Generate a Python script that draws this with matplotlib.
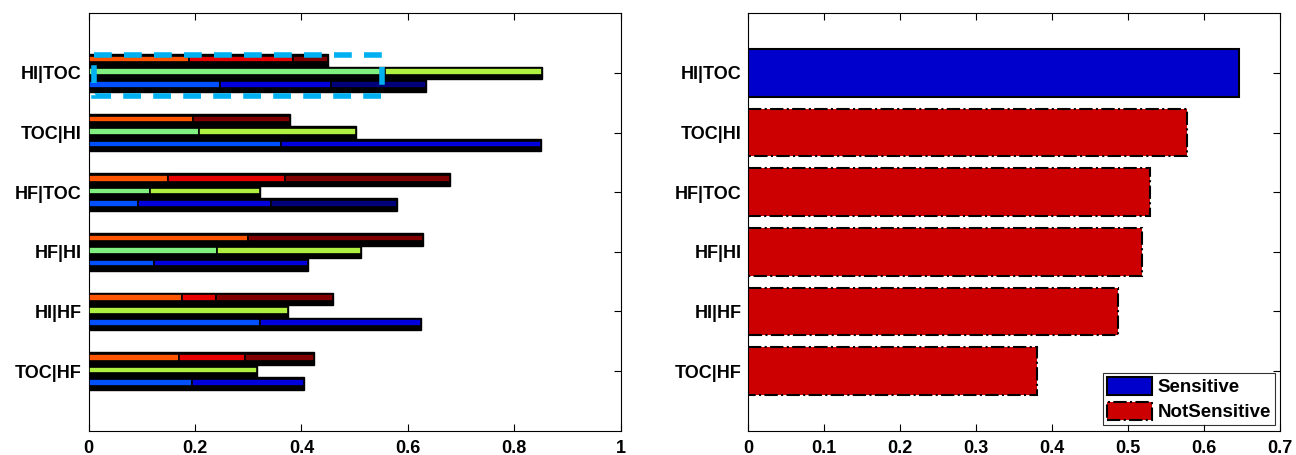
import numpy as np
import matplotlib
matplotlib.use('Agg')
import matplotlib.pyplot as plt
from matplotlib.patches import Patch, Rectangle

plt.rcParams['font.family'] = ['Liberation Sans', 'DejaVu Sans']

# 類別（由上到下）
categories = ['HI|TOC', 'TOC|HI', 'HF|TOC', 'HF|HI', 'HI|HF', 'TOC|HF']

# 左圖：三組堆疊條（每段長度）
red_segments = [
    [0.189, 0.196, 0.065],
    [0.197, 0.0, 0.182],
    [0.149, 0.220, 0.311],
    [0.300, 0.0, 0.328],
    [0.175, 0.064, 0.221],
    [0.170, 0.123, 0.130],
]
green_segments = [
    [0.557, 0.295],
    [0.208, 0.294],
    [0.115, 0.207],
    [0.241, 0.270],
    [0.0, 0.375],
    [0.0, 0.316],
]
blue_segments = [
    [0.247, 0.208, 0.179],
    [0.362, 0.489, 0.0],
    [0.092, 0.251, 0.236],
    [0.123, 0.290, 0.0],
    [0.323, 0.302, 0.0],
    [0.195, 0.209, 0.0],
]
red_colors = ['#ff5500', '#e60000', '#800000']
green_colors = ['#80f080', '#b0f040']
blue_colors = ['#0050ff', '#0000dd', '#00007a']

# 右圖：敏感度
sensitivity = [0.645, 0.577, 0.528, 0.518, 0.487, 0.380]
is_sensitive = [True, False, False, False, False, False]

y = np.arange(1, len(categories) + 1)

fig = plt.figure(figsize=(12.96, 4.55), dpi=100)
ax1 = fig.add_axes([0.0684, 0.0534, 0.4105, 0.9174])
ax2 = fig.add_axes([0.5774, 0.0534, 0.4105, 0.9174])


def draw_stack(ax, ypos, segs, colors):
    total = sum(segs)
    # 黑色底條
    ax.barh(ypos, total, height=0.21, color='black', edgecolor='black', linewidth=1.0, zorder=2)
    left = 0.0
    for val, col in zip(segs, colors):
        if val > 0:
            ax.barh(ypos - 0.02, val, left=left, height=0.11, color=col,
                    edgecolor='black', linewidth=1.2, zorder=3)
        left += val


for i, yi in enumerate(y):
    draw_stack(ax1, yi - 0.21, red_segments[i], red_colors)
    draw_stack(ax1, yi, green_segments[i], green_colors)
    draw_stack(ax1, yi + 0.21, blue_segments[i], blue_colors)

# 虛線框
ax1.add_patch(Rectangle((0.010, 0.70), 0.542, 0.69, fill=False, edgecolor='#00b0f0',
                        linewidth=4, linestyle=(0, (3.2, 2.2)), zorder=5))

ax1.set_xlim(0, 1)
ax1.set_xticks([0, 0.2, 0.4, 0.6, 0.8, 1])
ax1.set_xticklabels(['0', '0.2', '0.4', '0.6', '0.8', '1'])

# 右圖條形
for yi, val, sens in zip(y, sensitivity, is_sensitive):
    if sens:
        ax2.barh(yi, val, height=0.8, color='#0000cc', edgecolor='black', linewidth=1.5, zorder=2)
    else:
        ax2.barh(yi, val, height=0.8, color='#cc0000', edgecolor='black', linewidth=1.5,
                 linestyle='-.', zorder=2)

ax2.set_xlim(0, 0.7)
ax2.set_xticks(np.arange(0, 0.71, 0.1))
ax2.set_xticklabels(['0', '0.1', '0.2', '0.3', '0.4', '0.5', '0.6', '0.7'])

handles = [Patch(facecolor='#0000cc', edgecolor='black', linewidth=1.5, label='Sensitive'),
           Patch(facecolor='#cc0000', edgecolor='black', linewidth=1.5, linestyle='-.',
                 label='NotSensitive')]
leg = ax2.legend(handles=handles, loc='lower right', bbox_to_anchor=(0.990, 0.0137),
                 prop={'size': 13.5, 'weight': 'bold'}, frameon=True, fancybox=False,
                 handlelength=2.4, handleheight=1.12, handletextpad=0.3, borderpad=0.2,
                 labelspacing=0.3, borderaxespad=0.0)
leg.get_frame().set_edgecolor('black')
leg.get_frame().set_linewidth(0.8)

for ax in (ax1, ax2):
    ax.set_ylim(7, 0)
    ax.set_yticks(y)
    ax.set_yticklabels(categories)
    ax.tick_params(direction='in', top=True, right=True, length=5, width=0.8,
                   labelsize=13, pad=5)
    ax.tick_params(axis='x', pad=7)
    for lab in ax.get_xticklabels() + ax.get_yticklabels():
        lab.set_fontweight('bold')
    for sp in ax.spines.values():
        sp.set_linewidth(0.8)

fig.savefig('out.png', dpi=100)
